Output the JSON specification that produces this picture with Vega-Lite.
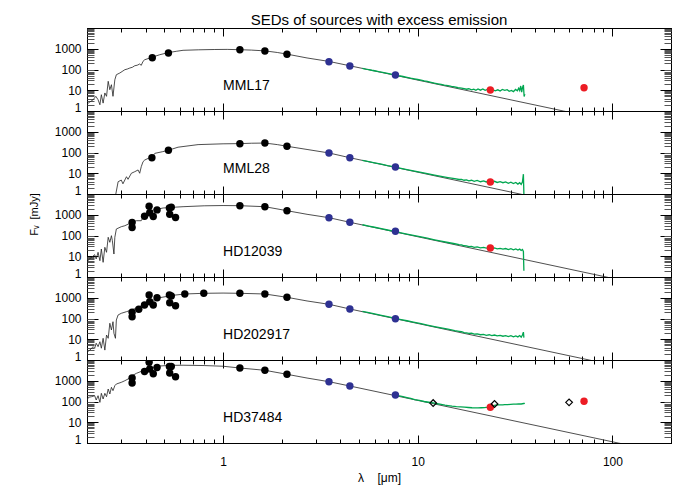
{
"$schema": "https://vega.github.io/schema/vega-lite/v6.json",
"title": {"text": "SEDs of sources with excess emission", "fontSize": 15, "fontWeight": "normal", "font": "Liberation Sans", "color": "#000", "anchor": "middle", "frame": "group", "offset": -1},
"padding": {"left": 27, "top": 13, "right": 5, "bottom": 5},
"spacing": 0,
"bounds": "flush",
"datasets": {
"mod": [
{"s":"MML17","x":0.199,"y":0.9},{"s":"MML17","x":0.2,"y":2.17},{"s":"MML17","x":0.207,"y":2.72},{"s":"MML17","x":0.215,"y":3.5},{"s":"MML17","x":0.222,"y":5.1},{"s":"MML17","x":0.228,"y":3.5},{"s":"MML17","x":0.233,"y":2.0},{"s":"MML17","x":0.237,"y":6.1},{"s":"MML17","x":0.242,"y":2.4},{"s":"MML17","x":0.247,"y":7.4},{"s":"MML17","x":0.252,"y":5.1},{"s":"MML17","x":0.257,"y":27},{"s":"MML17","x":0.262,"y":10.6},{"s":"MML17","x":0.267,"y":18.5},{"s":"MML17","x":0.272,"y":5.1},{"s":"MML17","x":0.278,"y":32},{"s":"MML17","x":0.283,"y":56},{"s":"MML17","x":0.295,"y":68},{"s":"MML17","x":0.303,"y":80},{"s":"MML17","x":0.313,"y":98},{"s":"MML17","x":0.322,"y":105},{"s":"MML17","x":0.332,"y":118},{"s":"MML17","x":0.342,"y":128},{"s":"MML17","x":0.352,"y":152},{"s":"MML17","x":0.362,"y":160},{"s":"MML17","x":0.373,"y":184},{"s":"MML17","x":0.38,"y":159},{"s":"MML17","x":0.388,"y":248},{"s":"MML17","x":0.396,"y":296},{"s":"MML17","x":0.431,"y":387},{"s":"MML17","x":0.473,"y":516},{"s":"MML17","x":0.521,"y":645},{"s":"MML17","x":0.575,"y":753},{"s":"MML17","x":0.623,"y":841},{"s":"MML17","x":0.75,"y":890},{"s":"MML17","x":0.9,"y":920},{"s":"MML17","x":1.05,"y":930},{"s":"MML17","x":1.22,"y":900},{"s":"MML17","x":1.4,"y":860},{"s":"MML17","x":1.64,"y":790},{"s":"MML17","x":1.9,"y":660},{"s":"MML17","x":2.13,"y":550},{"s":"MML17","x":2.7,"y":360},{"s":"MML17","x":3.5,"y":245},{"s":"MML17","x":4.5,"y":150},{"s":"MML17","x":7.7,"y":52},{"s":"MML17","x":56,"y":1},{"s":"MML17","x":80,"y":0.5},
{"s":"MML28","x":0.28,"y":0.8},{"s":"MML28","x":0.289,"y":3.9},{"s":"MML28","x":0.3,"y":4.7},{"s":"MML28","x":0.306,"y":3.1},{"s":"MML28","x":0.319,"y":6.8},{"s":"MML28","x":0.325,"y":5.1},{"s":"MML28","x":0.338,"y":10},{"s":"MML28","x":0.352,"y":11.9},{"s":"MML28","x":0.366,"y":14.4},{"s":"MML28","x":0.373,"y":10},{"s":"MML28","x":0.38,"y":20.7},{"s":"MML28","x":0.388,"y":36},{"s":"MML28","x":0.396,"y":43.5},{"s":"MML28","x":0.412,"y":52},{"s":"MML28","x":0.431,"y":58},{"s":"MML28","x":0.446,"y":91},{"s":"MML28","x":0.49,"y":110},{"s":"MML28","x":0.524,"y":128},{"s":"MML28","x":0.587,"y":180},{"s":"MML28","x":0.744,"y":240},{"s":"MML28","x":1.0,"y":262},{"s":"MML28","x":1.22,"y":268},{"s":"MML28","x":1.4,"y":280},{"s":"MML28","x":1.64,"y":285},{"s":"MML28","x":1.9,"y":240},{"s":"MML28","x":2.13,"y":200},{"s":"MML28","x":2.7,"y":140},{"s":"MML28","x":3.5,"y":95},{"s":"MML28","x":4.48,"y":56},{"s":"MML28","x":7.7,"y":19},{"s":"MML28","x":33.5,"y":1},{"s":"MML28","x":40,"y":0.7},
{"s":"HD12039","x":0.199,"y":0.9},{"s":"HD12039","x":0.2,"y":5.1},{"s":"HD12039","x":0.203,"y":6.6},{"s":"HD12039","x":0.211,"y":8.9},{"s":"HD12039","x":0.219,"y":11.9},{"s":"HD12039","x":0.223,"y":7.4},{"s":"HD12039","x":0.228,"y":15.5},{"s":"HD12039","x":0.233,"y":6.1},{"s":"HD12039","x":0.237,"y":22.3},{"s":"HD12039","x":0.242,"y":5.1},{"s":"HD12039","x":0.247,"y":27},{"s":"HD12039","x":0.252,"y":15.5},{"s":"HD12039","x":0.257,"y":82},{"s":"HD12039","x":0.262,"y":47},{"s":"HD12039","x":0.267,"y":98},{"s":"HD12039","x":0.27,"y":56},{"s":"HD12039","x":0.275,"y":12.8},{"s":"HD12039","x":0.278,"y":82},{"s":"HD12039","x":0.283,"y":206},{"s":"HD12039","x":0.3,"y":265},{"s":"HD12039","x":0.313,"y":296},{"s":"HD12039","x":0.332,"y":387},{"s":"HD12039","x":0.359,"y":516},{"s":"HD12039","x":0.38,"y":516},{"s":"HD12039","x":0.388,"y":753},{"s":"HD12039","x":0.404,"y":1087},{"s":"HD12039","x":0.437,"y":1694},{"s":"HD12039","x":0.492,"y":2115},{"s":"HD12039","x":0.553,"y":2286},{"s":"HD12039","x":0.623,"y":2443},{"s":"HD12039","x":0.8,"y":2700},{"s":"HD12039","x":1.0,"y":2780},{"s":"HD12039","x":1.22,"y":2730},{"s":"HD12039","x":1.64,"y":2443},{"s":"HD12039","x":2.13,"y":1567},{"s":"HD12039","x":2.7,"y":1050},{"s":"HD12039","x":3.5,"y":721},{"s":"HD12039","x":4.48,"y":433},{"s":"HD12039","x":7.7,"y":147},{"s":"HD12039","x":93,"y":1},{"s":"HD12039","x":110,"y":0.7},
{"s":"HD202917","x":0.199,"y":0.9},{"s":"HD202917","x":0.201,"y":2.5},{"s":"HD202917","x":0.207,"y":3.0},{"s":"HD202917","x":0.215,"y":4.4},{"s":"HD202917","x":0.219,"y":3.7},{"s":"HD202917","x":0.223,"y":6.4},{"s":"HD202917","x":0.228,"y":4.4},{"s":"HD202917","x":0.233,"y":7.6},{"s":"HD202917","x":0.237,"y":3.7},{"s":"HD202917","x":0.242,"y":11.1},{"s":"HD202917","x":0.247,"y":3.0},{"s":"HD202917","x":0.252,"y":16},{"s":"HD202917","x":0.257,"y":11.1},{"s":"HD202917","x":0.262,"y":59},{"s":"HD202917","x":0.267,"y":28},{"s":"HD202917","x":0.272,"y":70},{"s":"HD202917","x":0.275,"y":19.4},{"s":"HD202917","x":0.28,"y":11.1},{"s":"HD202917","x":0.283,"y":85},{"s":"HD202917","x":0.289,"y":148},{"s":"HD202917","x":0.3,"y":178},{"s":"HD202917","x":0.319,"y":213},{"s":"HD202917","x":0.34,"y":257},{"s":"HD202917","x":0.388,"y":450},{"s":"HD202917","x":0.463,"y":970},{"s":"HD202917","x":0.55,"y":1300},{"s":"HD202917","x":0.636,"y":1517},{"s":"HD202917","x":0.796,"y":1637},{"s":"HD202917","x":1.0,"y":1680},{"s":"HD202917","x":1.22,"y":1637},{"s":"HD202917","x":1.64,"y":1517},{"s":"HD202917","x":2.13,"y":1051},{"s":"HD202917","x":2.7,"y":700},{"s":"HD202917","x":3.5,"y":483},{"s":"HD202917","x":4.48,"y":287},{"s":"HD202917","x":7.7,"y":97},{"s":"HD202917","x":76,"y":1},{"s":"HD202917","x":90,"y":0.7},
{"s":"HD37484","x":0.199,"y":40},{"s":"HD37484","x":0.2,"y":109},{"s":"HD37484","x":0.203,"y":158},{"s":"HD37484","x":0.211,"y":170},{"s":"HD37484","x":0.219,"y":190},{"s":"HD37484","x":0.223,"y":118},{"s":"HD37484","x":0.228,"y":190},{"s":"HD37484","x":0.233,"y":91},{"s":"HD37484","x":0.237,"y":248},{"s":"HD37484","x":0.242,"y":132},{"s":"HD37484","x":0.247,"y":248},{"s":"HD37484","x":0.252,"y":170},{"s":"HD37484","x":0.257,"y":400},{"s":"HD37484","x":0.262,"y":230},{"s":"HD37484","x":0.267,"y":482},{"s":"HD37484","x":0.272,"y":333},{"s":"HD37484","x":0.278,"y":580},{"s":"HD37484","x":0.283,"y":697},{"s":"HD37484","x":0.3,"y":839},{"s":"HD37484","x":0.313,"y":1005},{"s":"HD37484","x":0.325,"y":1213},{"s":"HD37484","x":0.341,"y":1750},{"s":"HD37484","x":0.359,"y":2286},{"s":"HD37484","x":0.388,"y":3050},{"s":"HD37484","x":0.42,"y":4115},{"s":"HD37484","x":0.473,"y":5140},{"s":"HD37484","x":0.532,"y":5500},{"s":"HD37484","x":0.623,"y":5600},{"s":"HD37484","x":0.8,"y":5400},{"s":"HD37484","x":1.0,"y":5000},{"s":"HD37484","x":1.22,"y":4115},{"s":"HD37484","x":1.64,"y":3190},{"s":"HD37484","x":2.13,"y":2046},{"s":"HD37484","x":2.7,"y":1350},{"s":"HD37484","x":3.5,"y":900},{"s":"HD37484","x":4.48,"y":558},{"s":"HD37484","x":7.7,"y":190},{"s":"HD37484","x":107,"y":1},{"s":"HD37484","x":130,"y":0.7}
],
"irs": [
{"s":"MML17","x":5.2,"y":112},{"s":"MML17","x":5.4,"y":104},{"s":"MML17","x":5.6,"y":99},{"s":"MML17","x":5.8,"y":92},{"s":"MML17","x":6.0,"y":87},{"s":"MML17","x":6.3,"y":79},{"s":"MML17","x":6.6,"y":73},{"s":"MML17","x":7.0,"y":65},{"s":"MML17","x":7.3,"y":60},{"s":"MML17","x":7.68,"y":55},{"s":"MML17","x":8.0,"y":50},{"s":"MML17","x":8.4,"y":46},{"s":"MML17","x":8.8,"y":42},{"s":"MML17","x":9.2,"y":38},{"s":"MML17","x":9.6,"y":35.5},{"s":"MML17","x":10.0,"y":33},{"s":"MML17","x":10.4,"y":31},{"s":"MML17","x":10.8,"y":28},{"s":"MML17","x":11.2,"y":26.5},{"s":"MML17","x":11.7,"y":24},{"s":"MML17","x":12.2,"y":22},{"s":"MML17","x":12.7,"y":20.5},{"s":"MML17","x":13.2,"y":19},{"s":"MML17","x":13.7,"y":17.5},{"s":"MML17","x":14.3,"y":16.8},{"s":"MML17","x":14.9,"y":15.2},{"s":"MML17","x":15.5,"y":14.6},{"s":"MML17","x":16.1,"y":13.2},{"s":"MML17","x":16.8,"y":12.6},{"s":"MML17","x":17.3,"y":12.0},{"s":"MML17","x":17.8,"y":11.2},{"s":"MML17","x":18.3,"y":11.8},{"s":"MML17","x":18.9,"y":10.4},{"s":"MML17","x":19.4,"y":11.3},{"s":"MML17","x":19.9,"y":9.9},{"s":"MML17","x":20.4,"y":11.5},{"s":"MML17","x":21.0,"y":10.1},{"s":"MML17","x":21.6,"y":11.6},{"s":"MML17","x":22.2,"y":10.0},{"s":"MML17","x":22.8,"y":10.9},{"s":"MML17","x":23.6,"y":9.6},{"s":"MML17","x":24.3,"y":10.7},{"s":"MML17","x":25.0,"y":9.3},{"s":"MML17","x":25.8,"y":10.5},{"s":"MML17","x":26.5,"y":9.2},{"s":"MML17","x":27.2,"y":10.9},{"s":"MML17","x":28.0,"y":9.9},{"s":"MML17","x":28.8,"y":10.6},{"s":"MML17","x":29.5,"y":8.9},{"s":"MML17","x":30.3,"y":9.8},{"s":"MML17","x":31.0,"y":8.6},{"s":"MML17","x":31.8,"y":10.9},{"s":"MML17","x":32.5,"y":9.4},{"s":"MML17","x":33.0,"y":12.5},{"s":"MML17","x":33.4,"y":9.8},{"s":"MML17","x":33.8,"y":16},{"s":"MML17","x":34.2,"y":8.2},{"s":"MML17","x":34.5,"y":13},{"s":"MML17","x":34.9,"y":17.9},{"s":"MML17","x":35.2,"y":5.0},{"s":"MML17","x":35.5,"y":6.5},
{"s":"MML28","x":5.2,"y":42},{"s":"MML28","x":5.6,"y":36.5},{"s":"MML28","x":6.0,"y":32},{"s":"MML28","x":6.5,"y":27.5},{"s":"MML28","x":7.0,"y":23.5},{"s":"MML28","x":7.68,"y":19.8},{"s":"MML28","x":8.2,"y":17.3},{"s":"MML28","x":8.8,"y":15},{"s":"MML28","x":9.5,"y":13},{"s":"MML28","x":10.4,"y":11},{"s":"MML28","x":11.2,"y":9.6},{"s":"MML28","x":12.2,"y":8.2},{"s":"MML28","x":13.2,"y":7.1},{"s":"MML28","x":14.3,"y":6.2},{"s":"MML28","x":15.5,"y":5.5},{"s":"MML28","x":16.3,"y":5.0},{"s":"MML28","x":16.8,"y":5.1},{"s":"MML28","x":17.3,"y":4.6},{"s":"MML28","x":17.8,"y":4.8},{"s":"MML28","x":18.3,"y":4.3},{"s":"MML28","x":18.9,"y":4.6},{"s":"MML28","x":19.5,"y":4.1},{"s":"MML28","x":20.2,"y":4.5},{"s":"MML28","x":21.0,"y":3.9},{"s":"MML28","x":21.8,"y":4.3},{"s":"MML28","x":22.5,"y":3.8},{"s":"MML28","x":23.3,"y":4.2},{"s":"MML28","x":24.0,"y":3.7},{"s":"MML28","x":24.8,"y":4.1},{"s":"MML28","x":25.6,"y":3.6},{"s":"MML28","x":26.5,"y":3.9},{"s":"MML28","x":27.4,"y":3.5},{"s":"MML28","x":28.3,"y":3.8},{"s":"MML28","x":29.2,"y":3.3},{"s":"MML28","x":30.1,"y":3.7},{"s":"MML28","x":31.0,"y":3.2},{"s":"MML28","x":31.9,"y":3.6},{"s":"MML28","x":32.7,"y":3.0},{"s":"MML28","x":33.4,"y":3.5},{"s":"MML28","x":34.0,"y":2.9},{"s":"MML28","x":34.5,"y":3.8},{"s":"MML28","x":34.9,"y":9},{"s":"MML28","x":35.1,"y":1.0},
{"s":"HD12039","x":5.2,"y":330},{"s":"HD12039","x":5.6,"y":286},{"s":"HD12039","x":6.0,"y":250},{"s":"HD12039","x":6.5,"y":213},{"s":"HD12039","x":7.0,"y":184},{"s":"HD12039","x":7.68,"y":153},{"s":"HD12039","x":8.2,"y":134},{"s":"HD12039","x":8.8,"y":117},{"s":"HD12039","x":9.5,"y":101},{"s":"HD12039","x":10.4,"y":85},{"s":"HD12039","x":11.2,"y":74},{"s":"HD12039","x":12.2,"y":62},{"s":"HD12039","x":13.2,"y":53.5},{"s":"HD12039","x":14.3,"y":46},{"s":"HD12039","x":15.5,"y":40},{"s":"HD12039","x":16.3,"y":36},{"s":"HD12039","x":16.8,"y":35},{"s":"HD12039","x":17.3,"y":32},{"s":"HD12039","x":17.8,"y":31.5},{"s":"HD12039","x":18.3,"y":29},{"s":"HD12039","x":18.9,"y":29.5},{"s":"HD12039","x":19.5,"y":27},{"s":"HD12039","x":20.2,"y":28},{"s":"HD12039","x":21.0,"y":25.5},{"s":"HD12039","x":21.8,"y":27},{"s":"HD12039","x":22.5,"y":24.5},{"s":"HD12039","x":23.3,"y":26},{"s":"HD12039","x":24.0,"y":23.5},{"s":"HD12039","x":24.8,"y":25},{"s":"HD12039","x":25.6,"y":22.5},{"s":"HD12039","x":26.5,"y":24},{"s":"HD12039","x":27.4,"y":22},{"s":"HD12039","x":28.3,"y":23.5},{"s":"HD12039","x":29.2,"y":21},{"s":"HD12039","x":30.1,"y":23},{"s":"HD12039","x":31.0,"y":20.5},{"s":"HD12039","x":31.9,"y":22.5},{"s":"HD12039","x":32.7,"y":20},{"s":"HD12039","x":33.4,"y":22},{"s":"HD12039","x":34.0,"y":19},{"s":"HD12039","x":34.5,"y":21},{"s":"HD12039","x":34.9,"y":17},{"s":"HD12039","x":35.1,"y":2.0},
{"s":"HD202917","x":5.2,"y":220},{"s":"HD202917","x":5.6,"y":190},{"s":"HD202917","x":6.0,"y":166},{"s":"HD202917","x":6.5,"y":142},{"s":"HD202917","x":7.0,"y":122},{"s":"HD202917","x":7.68,"y":102},{"s":"HD202917","x":8.2,"y":89},{"s":"HD202917","x":8.8,"y":78},{"s":"HD202917","x":9.5,"y":67},{"s":"HD202917","x":10.4,"y":56},{"s":"HD202917","x":11.2,"y":48.5},{"s":"HD202917","x":12.2,"y":41},{"s":"HD202917","x":13.2,"y":35.5},{"s":"HD202917","x":14.3,"y":30.5},{"s":"HD202917","x":15.5,"y":26},{"s":"HD202917","x":16.3,"y":24},{"s":"HD202917","x":16.8,"y":23},{"s":"HD202917","x":17.3,"y":21},{"s":"HD202917","x":17.8,"y":20.5},{"s":"HD202917","x":18.3,"y":19},{"s":"HD202917","x":18.9,"y":19.5},{"s":"HD202917","x":19.5,"y":17.5},{"s":"HD202917","x":20.2,"y":18},{"s":"HD202917","x":21.0,"y":16.5},{"s":"HD202917","x":21.8,"y":17},{"s":"HD202917","x":22.5,"y":15.5},{"s":"HD202917","x":23.3,"y":16.5},{"s":"HD202917","x":24.0,"y":15},{"s":"HD202917","x":24.8,"y":16},{"s":"HD202917","x":25.6,"y":14.5},{"s":"HD202917","x":26.5,"y":15.5},{"s":"HD202917","x":27.4,"y":14},{"s":"HD202917","x":28.3,"y":15},{"s":"HD202917","x":29.2,"y":13.5},{"s":"HD202917","x":30.1,"y":15},{"s":"HD202917","x":31.0,"y":13},{"s":"HD202917","x":31.9,"y":14.5},{"s":"HD202917","x":32.7,"y":13},{"s":"HD202917","x":33.4,"y":15},{"s":"HD202917","x":34.0,"y":12.5},{"s":"HD202917","x":34.5,"y":16},{"s":"HD202917","x":34.9,"y":22},{"s":"HD202917","x":35.1,"y":12},
{"s":"HD37484","x":7.93,"y":190},{"s":"HD37484","x":8.4,"y":170},{"s":"HD37484","x":8.8,"y":155},{"s":"HD37484","x":9.2,"y":140},{"s":"HD37484","x":9.65,"y":124},{"s":"HD37484","x":10.2,"y":112},{"s":"HD37484","x":10.8,"y":100},{"s":"HD37484","x":11.4,"y":92},{"s":"HD37484","x":12.0,"y":85},{"s":"HD37484","x":12.6,"y":78},{"s":"HD37484","x":13.2,"y":72},{"s":"HD37484","x":13.8,"y":67},{"s":"HD37484","x":14.3,"y":64},{"s":"HD37484","x":15.0,"y":60},{"s":"HD37484","x":15.8,"y":57},{"s":"HD37484","x":16.6,"y":55},{"s":"HD37484","x":17.4,"y":53},{"s":"HD37484","x":18.2,"y":51.5},{"s":"HD37484","x":19.0,"y":50},{"s":"HD37484","x":19.7,"y":49.5},{"s":"HD37484","x":20.4,"y":49},{"s":"HD37484","x":21.2,"y":50},{"s":"HD37484","x":22.0,"y":51},{"s":"HD37484","x":23.0,"y":53},{"s":"HD37484","x":23.8,"y":57},{"s":"HD37484","x":24.5,"y":62},{"s":"HD37484","x":25.0,"y":67},{"s":"HD37484","x":25.8,"y":68},{"s":"HD37484","x":26.5,"y":69.5},{"s":"HD37484","x":27.3,"y":69},{"s":"HD37484","x":28.0,"y":70.5},{"s":"HD37484","x":29.0,"y":71},{"s":"HD37484","x":30.0,"y":73},{"s":"HD37484","x":31.0,"y":74},{"s":"HD37484","x":32.0,"y":75},{"s":"HD37484","x":33.0,"y":77},{"s":"HD37484","x":34.0,"y":76},{"s":"HD37484","x":35.0,"y":80},{"s":"HD37484","x":35.5,"y":82}
],
"pts": [
{"s":"MML17","x":0.433,"y":370,"k":"black"},{"s":"MML17","x":0.524,"y":624,"k":"black"},{"s":"MML17","x":1.22,"y":900,"k":"black"},{"s":"MML17","x":1.64,"y":780,"k":"black"},{"s":"MML17","x":2.13,"y":540,"k":"black"},{"s":"MML17","x":3.5,"y":238,"k":"blue"},{"s":"MML17","x":4.48,"y":147,"k":"blue"},{"s":"MML17","x":7.68,"y":54,"k":"blue"},{"s":"MML17","x":23.6,"y":10.3,"k":"red"},{"s":"MML17","x":71.5,"y":13.3,"k":"red"},
{"s":"MML28","x":0.431,"y":56,"k":"black"},{"s":"MML28","x":0.524,"y":128,"k":"black"},{"s":"MML28","x":1.22,"y":265,"k":"black"},{"s":"MML28","x":1.64,"y":287,"k":"black"},{"s":"MML28","x":2.13,"y":199,"k":"black"},{"s":"MML28","x":3.5,"y":95,"k":"blue"},{"s":"MML28","x":4.48,"y":56,"k":"blue"},{"s":"MML28","x":7.68,"y":20,"k":"blue"},{"s":"MML28","x":23.6,"y":3.8,"k":"red"},
{"s":"HD12039","x":0.341,"y":424,"k":"black"},{"s":"HD12039","x":0.341,"y":243,"k":"black"},{"s":"HD12039","x":0.395,"y":851,"k":"black"},{"s":"HD12039","x":0.417,"y":2553,"k":"black"},{"s":"HD12039","x":0.42,"y":1241,"k":"black"},{"s":"HD12039","x":0.438,"y":824,"k":"black"},{"s":"HD12039","x":0.458,"y":1714,"k":"black"},{"s":"HD12039","x":0.53,"y":2115,"k":"black"},{"s":"HD12039","x":0.542,"y":2286,"k":"black"},{"s":"HD12039","x":0.532,"y":1051,"k":"black"},{"s":"HD12039","x":0.57,"y":736,"k":"black"},{"s":"HD12039","x":1.22,"y":2730,"k":"black"},{"s":"HD12039","x":1.64,"y":2443,"k":"black"},{"s":"HD12039","x":2.13,"y":1567,"k":"black"},{"s":"HD12039","x":3.5,"y":721,"k":"blue"},{"s":"HD12039","x":4.48,"y":433,"k":"blue"},{"s":"HD12039","x":7.68,"y":160,"k":"blue"},{"s":"HD12039","x":23.6,"y":25,"k":"red"},
{"s":"HD202917","x":0.341,"y":199,"k":"black"},{"s":"HD202917","x":0.341,"y":122,"k":"black"},{"s":"HD202917","x":0.369,"y":277,"k":"black"},{"s":"HD202917","x":0.395,"y":448,"k":"black"},{"s":"HD202917","x":0.417,"y":1358,"k":"black"},{"s":"HD202917","x":0.42,"y":645,"k":"black"},{"s":"HD202917","x":0.438,"y":448,"k":"black"},{"s":"HD202917","x":0.458,"y":1005,"k":"black"},{"s":"HD202917","x":0.53,"y":1358,"k":"black"},{"s":"HD202917","x":0.542,"y":1213,"k":"black"},{"s":"HD202917","x":0.532,"y":577,"k":"black"},{"s":"HD202917","x":0.57,"y":414,"k":"black"},{"s":"HD202917","x":0.636,"y":1517,"k":"black"},{"s":"HD202917","x":0.796,"y":1637,"k":"black"},{"s":"HD202917","x":1.22,"y":1637,"k":"black"},{"s":"HD202917","x":1.64,"y":1517,"k":"black"},{"s":"HD202917","x":2.13,"y":1051,"k":"black"},{"s":"HD202917","x":3.5,"y":483,"k":"blue"},{"s":"HD202917","x":4.48,"y":287,"k":"blue"},{"s":"HD202917","x":7.68,"y":97,"k":"blue"},
{"s":"HD37484","x":0.341,"y":1358,"k":"black"},{"s":"HD37484","x":0.341,"y":780,"k":"black"},{"s":"HD37484","x":0.395,"y":2793,"k":"black"},{"s":"HD37484","x":0.417,"y":7745,"k":"black"},{"s":"HD37484","x":0.42,"y":3683,"k":"black"},{"s":"HD37484","x":0.438,"y":2188,"k":"black"},{"s":"HD37484","x":0.458,"y":4350,"k":"black"},{"s":"HD37484","x":0.53,"y":4862,"k":"black"},{"s":"HD37484","x":0.542,"y":4900,"k":"black"},{"s":"HD37484","x":0.532,"y":2363,"k":"black"},{"s":"HD37484","x":0.57,"y":1567,"k":"black"},{"s":"HD37484","x":1.22,"y":4115,"k":"black"},{"s":"HD37484","x":1.64,"y":3190,"k":"black"},{"s":"HD37484","x":2.13,"y":2046,"k":"black"},{"s":"HD37484","x":3.5,"y":900,"k":"blue"},{"s":"HD37484","x":4.48,"y":558,"k":"blue"},{"s":"HD37484","x":7.68,"y":206,"k":"blue"},{"s":"HD37484","x":23.6,"y":53,"k":"red"},{"s":"HD37484","x":71.5,"y":102,"k":"red"},{"s":"HD37484","x":12.0,"y":84,"k":"diamond"},{"s":"HD37484","x":24.8,"y":76,"k":"diamond"},{"s":"HD37484","x":59.9,"y":91,"k":"diamond"}
]
},
"vconcat": [
{"width": 584, "height": 83, "resolve": {"axis": {"x": "independent", "y": "independent"}},
 "layer": [
  {"data": {"name": "mod"}, "transform": [{"filter": "datum.s === 'MML17'"}], "mark": {"type": "line", "color": "#222", "strokeWidth": 0.8, "clip": true},
   "encoding": {"x": {"field": "x", "type": "quantitative", "scale": {"type": "log", "domain": [0.2, 200], "nice": false}, "axis": {"orient": "bottom", "values": [1, 10, 100], "tickSize": -8, "labels": false, "title": null}},
                "y": {"field": "y", "type": "quantitative", "scale": {"type": "log", "domain": [1, 10000], "nice": false}, "axis": {"orient": "left", "values": [1, 10, 100, 1000], "format": "d", "tickSize": -11, "labelPadding": 17, "labelFlush": 1, "labelFlushOffset": 3, "title": null}}}},
  {"data": {"name": "irs"}, "transform": [{"filter": "datum.s === 'MML17'"}], "mark": {"type": "line", "color": "#00a650", "strokeWidth": 1.3, "clip": true},
   "encoding": {"x": {"field": "x", "type": "quantitative", "axis": {"orient": "bottom", "values": [0.2,0.3,0.4,0.5,0.6,0.7,0.8,0.9,2,3,4,5,6,7,8,9,20,30,40,50,60,70,80,90,200], "tickSize": -4, "labels": false, "domain": false, "title": null}},
                "y": {"field": "y", "type": "quantitative", "axis": {"orient": "left", "values": [2,3,4,5,6,7,8,9,20,30,40,50,60,70,80,90,200,300,400,500,600,700,800,900,2000,3000,4000,5000,6000,7000,8000,9000], "tickSize": -7, "tickColor": "#555", "labels": false, "domain": false, "title": null}}}},
  {"data": {"name": "pts"}, "transform": [{"filter": "datum.s === 'MML17' && datum.k === 'black'"}], "mark": {"type": "circle", "color": "#000", "size": 55, "opacity": 1, "clip": true},
   "encoding": {"x": {"field": "x", "type": "quantitative", "axis": {"orient": "top", "values": [1, 10, 100], "tickSize": -8, "labels": false, "title": null}},
                "y": {"field": "y", "type": "quantitative", "axis": {"orient": "right", "values": [1, 10, 100, 1000], "tickSize": -11, "labels": false, "title": null}}}},
  {"data": {"name": "pts"}, "transform": [{"filter": "datum.s === 'MML17' && (datum.k === 'blue' || datum.k === 'red')"}], "mark": {"type": "circle", "size": 55, "opacity": 1, "clip": true},
   "encoding": {"x": {"field": "x", "type": "quantitative", "axis": {"orient": "top", "values": [0.2,0.3,0.4,0.5,0.6,0.7,0.8,0.9,2,3,4,5,6,7,8,9,20,30,40,50,60,70,80,90,200], "tickSize": -4, "labels": false, "domain": false, "title": null}},
                "y": {"field": "y", "type": "quantitative", "axis": {"orient": "right", "values": [2,3,4,5,6,7,8,9,20,30,40,50,60,70,80,90,200,300,400,500,600,700,800,900,2000,3000,4000,5000,6000,7000,8000,9000], "tickSize": -7, "tickColor": "#555", "labels": false, "domain": false, "title": null}},
                "color": {"field": "k", "type": "nominal", "scale": {"domain": ["blue", "red"], "range": ["#2e3192", "#ec1c24"]}, "legend": null}}},
  {"data": {"values": [{"name": "MML17"}]}, "mark": {"type": "text", "align": "left", "baseline": "middle", "fontSize": 14, "color": "#000"},
   "encoding": {"x": {"datum": 1.0, "type": "quantitative", "axis": null}, "y": {"datum": 16, "type": "quantitative", "axis": null}, "text": {"field": "name"}}}
 ]},
{"width": 584, "height": 83, "resolve": {"axis": {"x": "independent", "y": "independent"}},
 "layer": [
  {"data": {"name": "mod"}, "transform": [{"filter": "datum.s === 'MML28'"}], "mark": {"type": "line", "color": "#222", "strokeWidth": 0.8, "clip": true},
   "encoding": {"x": {"field": "x", "type": "quantitative", "scale": {"type": "log", "domain": [0.2, 200], "nice": false}, "axis": {"orient": "bottom", "values": [1, 10, 100], "tickSize": -8, "labels": false, "title": null}},
                "y": {"field": "y", "type": "quantitative", "scale": {"type": "log", "domain": [1, 10000], "nice": false}, "axis": {"orient": "left", "values": [1, 10, 100, 1000], "format": "d", "tickSize": -11, "labelPadding": 17, "labelFlush": 1, "labelFlushOffset": 3, "title": null}}}},
  {"data": {"name": "irs"}, "transform": [{"filter": "datum.s === 'MML28'"}], "mark": {"type": "line", "color": "#00a650", "strokeWidth": 1.3, "clip": true},
   "encoding": {"x": {"field": "x", "type": "quantitative", "axis": {"orient": "bottom", "values": [0.2,0.3,0.4,0.5,0.6,0.7,0.8,0.9,2,3,4,5,6,7,8,9,20,30,40,50,60,70,80,90,200], "tickSize": -4, "labels": false, "domain": false, "title": null}},
                "y": {"field": "y", "type": "quantitative", "axis": {"orient": "left", "values": [2,3,4,5,6,7,8,9,20,30,40,50,60,70,80,90,200,300,400,500,600,700,800,900,2000,3000,4000,5000,6000,7000,8000,9000], "tickSize": -7, "tickColor": "#555", "labels": false, "domain": false, "title": null}}}},
  {"data": {"name": "pts"}, "transform": [{"filter": "datum.s === 'MML28' && datum.k === 'black'"}], "mark": {"type": "circle", "color": "#000", "size": 55, "opacity": 1, "clip": true},
   "encoding": {"x": {"field": "x", "type": "quantitative", "axis": {"orient": "top", "values": [1, 10, 100], "tickSize": -8, "labels": false, "title": null}},
                "y": {"field": "y", "type": "quantitative", "axis": {"orient": "right", "values": [1, 10, 100, 1000], "tickSize": -11, "labels": false, "title": null}}}},
  {"data": {"name": "pts"}, "transform": [{"filter": "datum.s === 'MML28' && (datum.k === 'blue' || datum.k === 'red')"}], "mark": {"type": "circle", "size": 55, "opacity": 1, "clip": true},
   "encoding": {"x": {"field": "x", "type": "quantitative", "axis": {"orient": "top", "values": [0.2,0.3,0.4,0.5,0.6,0.7,0.8,0.9,2,3,4,5,6,7,8,9,20,30,40,50,60,70,80,90,200], "tickSize": -4, "labels": false, "domain": false, "title": null}},
                "y": {"field": "y", "type": "quantitative", "axis": {"orient": "right", "values": [2,3,4,5,6,7,8,9,20,30,40,50,60,70,80,90,200,300,400,500,600,700,800,900,2000,3000,4000,5000,6000,7000,8000,9000], "tickSize": -7, "tickColor": "#555", "labels": false, "domain": false, "title": null}},
                "color": {"field": "k", "type": "nominal", "scale": {"domain": ["blue", "red"], "range": ["#2e3192", "#ec1c24"]}, "legend": null}}},
  {"data": {"values": [{"name": "MML28"}]}, "mark": {"type": "text", "align": "left", "baseline": "middle", "fontSize": 14, "color": "#000"},
   "encoding": {"x": {"datum": 1.0, "type": "quantitative", "axis": null}, "y": {"datum": 16, "type": "quantitative", "axis": null}, "text": {"field": "name"}}}
 ]},
{"width": 584, "height": 83, "resolve": {"axis": {"x": "independent", "y": "independent"}},
 "layer": [
  {"data": {"name": "mod"}, "transform": [{"filter": "datum.s === 'HD12039'"}], "mark": {"type": "line", "color": "#222", "strokeWidth": 0.8, "clip": true},
   "encoding": {"x": {"field": "x", "type": "quantitative", "scale": {"type": "log", "domain": [0.2, 200], "nice": false}, "axis": {"orient": "bottom", "values": [1, 10, 100], "tickSize": -8, "labels": false, "title": null}},
                "y": {"field": "y", "type": "quantitative", "scale": {"type": "log", "domain": [1, 10000], "nice": false}, "axis": {"orient": "left", "values": [1, 10, 100, 1000], "format": "d", "tickSize": -11, "labelPadding": 17, "labelFlush": 1, "labelFlushOffset": 3, "title": "F\u1d65\u00a0\u00a0[mJy]", "titleFontSize": 11, "titlePadding": 15, "titleY": 20}}}},
  {"data": {"name": "irs"}, "transform": [{"filter": "datum.s === 'HD12039'"}], "mark": {"type": "line", "color": "#00a650", "strokeWidth": 1.3, "clip": true},
   "encoding": {"x": {"field": "x", "type": "quantitative", "axis": {"orient": "bottom", "values": [0.2,0.3,0.4,0.5,0.6,0.7,0.8,0.9,2,3,4,5,6,7,8,9,20,30,40,50,60,70,80,90,200], "tickSize": -4, "labels": false, "domain": false, "title": null}},
                "y": {"field": "y", "type": "quantitative", "axis": {"orient": "left", "values": [2,3,4,5,6,7,8,9,20,30,40,50,60,70,80,90,200,300,400,500,600,700,800,900,2000,3000,4000,5000,6000,7000,8000,9000], "tickSize": -7, "tickColor": "#555", "labels": false, "domain": false, "title": null}}}},
  {"data": {"name": "pts"}, "transform": [{"filter": "datum.s === 'HD12039' && datum.k === 'black'"}], "mark": {"type": "circle", "color": "#000", "size": 55, "opacity": 1, "clip": true},
   "encoding": {"x": {"field": "x", "type": "quantitative", "axis": {"orient": "top", "values": [1, 10, 100], "tickSize": -8, "labels": false, "title": null}},
                "y": {"field": "y", "type": "quantitative", "axis": {"orient": "right", "values": [1, 10, 100, 1000], "tickSize": -11, "labels": false, "title": null}}}},
  {"data": {"name": "pts"}, "transform": [{"filter": "datum.s === 'HD12039' && (datum.k === 'blue' || datum.k === 'red')"}], "mark": {"type": "circle", "size": 55, "opacity": 1, "clip": true},
   "encoding": {"x": {"field": "x", "type": "quantitative", "axis": {"orient": "top", "values": [0.2,0.3,0.4,0.5,0.6,0.7,0.8,0.9,2,3,4,5,6,7,8,9,20,30,40,50,60,70,80,90,200], "tickSize": -4, "labels": false, "domain": false, "title": null}},
                "y": {"field": "y", "type": "quantitative", "axis": {"orient": "right", "values": [2,3,4,5,6,7,8,9,20,30,40,50,60,70,80,90,200,300,400,500,600,700,800,900,2000,3000,4000,5000,6000,7000,8000,9000], "tickSize": -7, "tickColor": "#555", "labels": false, "domain": false, "title": null}},
                "color": {"field": "k", "type": "nominal", "scale": {"domain": ["blue", "red"], "range": ["#2e3192", "#ec1c24"]}, "legend": null}}},
  {"data": {"values": [{"name": "HD12039"}]}, "mark": {"type": "text", "align": "left", "baseline": "middle", "fontSize": 14, "color": "#000"},
   "encoding": {"x": {"datum": 1.0, "type": "quantitative", "axis": null}, "y": {"datum": 16, "type": "quantitative", "axis": null}, "text": {"field": "name"}}}
 ]},
{"width": 584, "height": 83, "resolve": {"axis": {"x": "independent", "y": "independent"}},
 "layer": [
  {"data": {"name": "mod"}, "transform": [{"filter": "datum.s === 'HD202917'"}], "mark": {"type": "line", "color": "#222", "strokeWidth": 0.8, "clip": true},
   "encoding": {"x": {"field": "x", "type": "quantitative", "scale": {"type": "log", "domain": [0.2, 200], "nice": false}, "axis": {"orient": "bottom", "values": [1, 10, 100], "tickSize": -8, "labels": false, "title": null}},
                "y": {"field": "y", "type": "quantitative", "scale": {"type": "log", "domain": [1, 10000], "nice": false}, "axis": {"orient": "left", "values": [1, 10, 100, 1000], "format": "d", "tickSize": -11, "labelPadding": 17, "labelFlush": 1, "labelFlushOffset": 3, "title": null}}}},
  {"data": {"name": "irs"}, "transform": [{"filter": "datum.s === 'HD202917'"}], "mark": {"type": "line", "color": "#00a650", "strokeWidth": 1.3, "clip": true},
   "encoding": {"x": {"field": "x", "type": "quantitative", "axis": {"orient": "bottom", "values": [0.2,0.3,0.4,0.5,0.6,0.7,0.8,0.9,2,3,4,5,6,7,8,9,20,30,40,50,60,70,80,90,200], "tickSize": -4, "labels": false, "domain": false, "title": null}},
                "y": {"field": "y", "type": "quantitative", "axis": {"orient": "left", "values": [2,3,4,5,6,7,8,9,20,30,40,50,60,70,80,90,200,300,400,500,600,700,800,900,2000,3000,4000,5000,6000,7000,8000,9000], "tickSize": -7, "tickColor": "#555", "labels": false, "domain": false, "title": null}}}},
  {"data": {"name": "pts"}, "transform": [{"filter": "datum.s === 'HD202917' && datum.k === 'black'"}], "mark": {"type": "circle", "color": "#000", "size": 55, "opacity": 1, "clip": true},
   "encoding": {"x": {"field": "x", "type": "quantitative", "axis": {"orient": "top", "values": [1, 10, 100], "tickSize": -8, "labels": false, "title": null}},
                "y": {"field": "y", "type": "quantitative", "axis": {"orient": "right", "values": [1, 10, 100, 1000], "tickSize": -11, "labels": false, "title": null}}}},
  {"data": {"name": "pts"}, "transform": [{"filter": "datum.s === 'HD202917' && (datum.k === 'blue' || datum.k === 'red')"}], "mark": {"type": "circle", "size": 55, "opacity": 1, "clip": true},
   "encoding": {"x": {"field": "x", "type": "quantitative", "axis": {"orient": "top", "values": [0.2,0.3,0.4,0.5,0.6,0.7,0.8,0.9,2,3,4,5,6,7,8,9,20,30,40,50,60,70,80,90,200], "tickSize": -4, "labels": false, "domain": false, "title": null}},
                "y": {"field": "y", "type": "quantitative", "axis": {"orient": "right", "values": [2,3,4,5,6,7,8,9,20,30,40,50,60,70,80,90,200,300,400,500,600,700,800,900,2000,3000,4000,5000,6000,7000,8000,9000], "tickSize": -7, "tickColor": "#555", "labels": false, "domain": false, "title": null}},
                "color": {"field": "k", "type": "nominal", "scale": {"domain": ["blue", "red"], "range": ["#2e3192", "#ec1c24"]}, "legend": null}}},
  {"data": {"values": [{"name": "HD202917"}]}, "mark": {"type": "text", "align": "left", "baseline": "middle", "fontSize": 14, "color": "#000"},
   "encoding": {"x": {"datum": 1.0, "type": "quantitative", "axis": null}, "y": {"datum": 16, "type": "quantitative", "axis": null}, "text": {"field": "name"}}}
 ]},
{"width": 584, "height": 83, "resolve": {"axis": {"x": "independent", "y": "independent"}},
 "layer": [
  {"data": {"name": "mod"}, "transform": [{"filter": "datum.s === 'HD37484'"}], "mark": {"type": "line", "color": "#222", "strokeWidth": 0.8, "clip": true},
   "encoding": {"x": {"field": "x", "type": "quantitative", "scale": {"type": "log", "domain": [0.2, 200], "nice": false}, "axis": {"orient": "bottom", "values": [1, 10, 100], "format": "d", "tickSize": -8, "labelPadding": 21, "title": "\u03bb\u00a0\u00a0\u00a0\u00a0[\u03bcm]", "titlePadding": 5}},
                "y": {"field": "y", "type": "quantitative", "scale": {"type": "log", "domain": [1, 10000], "nice": false}, "axis": {"orient": "left", "values": [1, 10, 100, 1000], "format": "d", "tickSize": -11, "labelPadding": 17, "labelFlush": 1, "labelFlushOffset": 3, "title": null}}}},
  {"data": {"name": "irs"}, "transform": [{"filter": "datum.s === 'HD37484'"}], "mark": {"type": "line", "color": "#00a650", "strokeWidth": 1.3, "clip": true},
   "encoding": {"x": {"field": "x", "type": "quantitative", "axis": {"orient": "bottom", "values": [0.2,0.3,0.4,0.5,0.6,0.7,0.8,0.9,2,3,4,5,6,7,8,9,20,30,40,50,60,70,80,90,200], "tickSize": -4, "labels": false, "domain": false, "title": null}},
                "y": {"field": "y", "type": "quantitative", "axis": {"orient": "left", "values": [2,3,4,5,6,7,8,9,20,30,40,50,60,70,80,90,200,300,400,500,600,700,800,900,2000,3000,4000,5000,6000,7000,8000,9000], "tickSize": -7, "tickColor": "#555", "labels": false, "domain": false, "title": null}}}},
  {"data": {"name": "pts"}, "transform": [{"filter": "datum.s === 'HD37484' && datum.k === 'black'"}], "mark": {"type": "circle", "color": "#000", "size": 55, "opacity": 1, "clip": true},
   "encoding": {"x": {"field": "x", "type": "quantitative", "axis": {"orient": "top", "values": [1, 10, 100], "tickSize": -8, "labels": false, "title": null}},
                "y": {"field": "y", "type": "quantitative", "axis": {"orient": "right", "values": [1, 10, 100, 1000], "tickSize": -11, "labels": false, "title": null}}}},
  {"data": {"name": "pts"}, "transform": [{"filter": "datum.s === 'HD37484' && (datum.k === 'blue' || datum.k === 'red')"}], "mark": {"type": "circle", "size": 55, "opacity": 1, "clip": true},
   "encoding": {"x": {"field": "x", "type": "quantitative", "axis": {"orient": "top", "values": [0.2,0.3,0.4,0.5,0.6,0.7,0.8,0.9,2,3,4,5,6,7,8,9,20,30,40,50,60,70,80,90,200], "tickSize": -4, "labels": false, "domain": false, "title": null}},
                "y": {"field": "y", "type": "quantitative", "axis": {"orient": "right", "values": [2,3,4,5,6,7,8,9,20,30,40,50,60,70,80,90,200,300,400,500,600,700,800,900,2000,3000,4000,5000,6000,7000,8000,9000], "tickSize": -7, "tickColor": "#555", "labels": false, "domain": false, "title": null}},
                "color": {"field": "k", "type": "nominal", "scale": {"domain": ["blue", "red"], "range": ["#2e3192", "#ec1c24"]}, "legend": null}}},
  {"data": {"name": "pts"}, "transform": [{"filter": "datum.s === 'HD37484' && datum.k === 'diamond'"}], "mark": {"type": "point", "shape": "diamond", "filled": false, "stroke": "#000", "strokeWidth": 1.2, "size": 45, "opacity": 1, "clip": true},
   "encoding": {"x": {"field": "x", "type": "quantitative", "axis": null}, "y": {"field": "y", "type": "quantitative", "axis": null}}},
  {"data": {"values": [{"name": "HD37484"}]}, "mark": {"type": "text", "align": "left", "baseline": "middle", "fontSize": 14, "color": "#000"},
   "encoding": {"x": {"datum": 1.0, "type": "quantitative", "axis": null}, "y": {"datum": 16, "type": "quantitative", "axis": null}, "text": {"field": "name"}}}
 ]}
],
"config": {
 "font": "Liberation Sans",
 "view": {"stroke": "#000", "strokeWidth": 1},
 "axis": {"grid": false, "domainColor": "#000", "tickColor": "#000", "domainWidth": 1, "tickWidth": 1, "labelFont": "Liberation Sans", "labelFontSize": 12, "labelColor": "#000", "titleFont": "Liberation Sans", "titleFontSize": 12, "titleFontWeight": "normal", "titleColor": "#000"},
 "text": {"font": "Liberation Sans"}
}
}
